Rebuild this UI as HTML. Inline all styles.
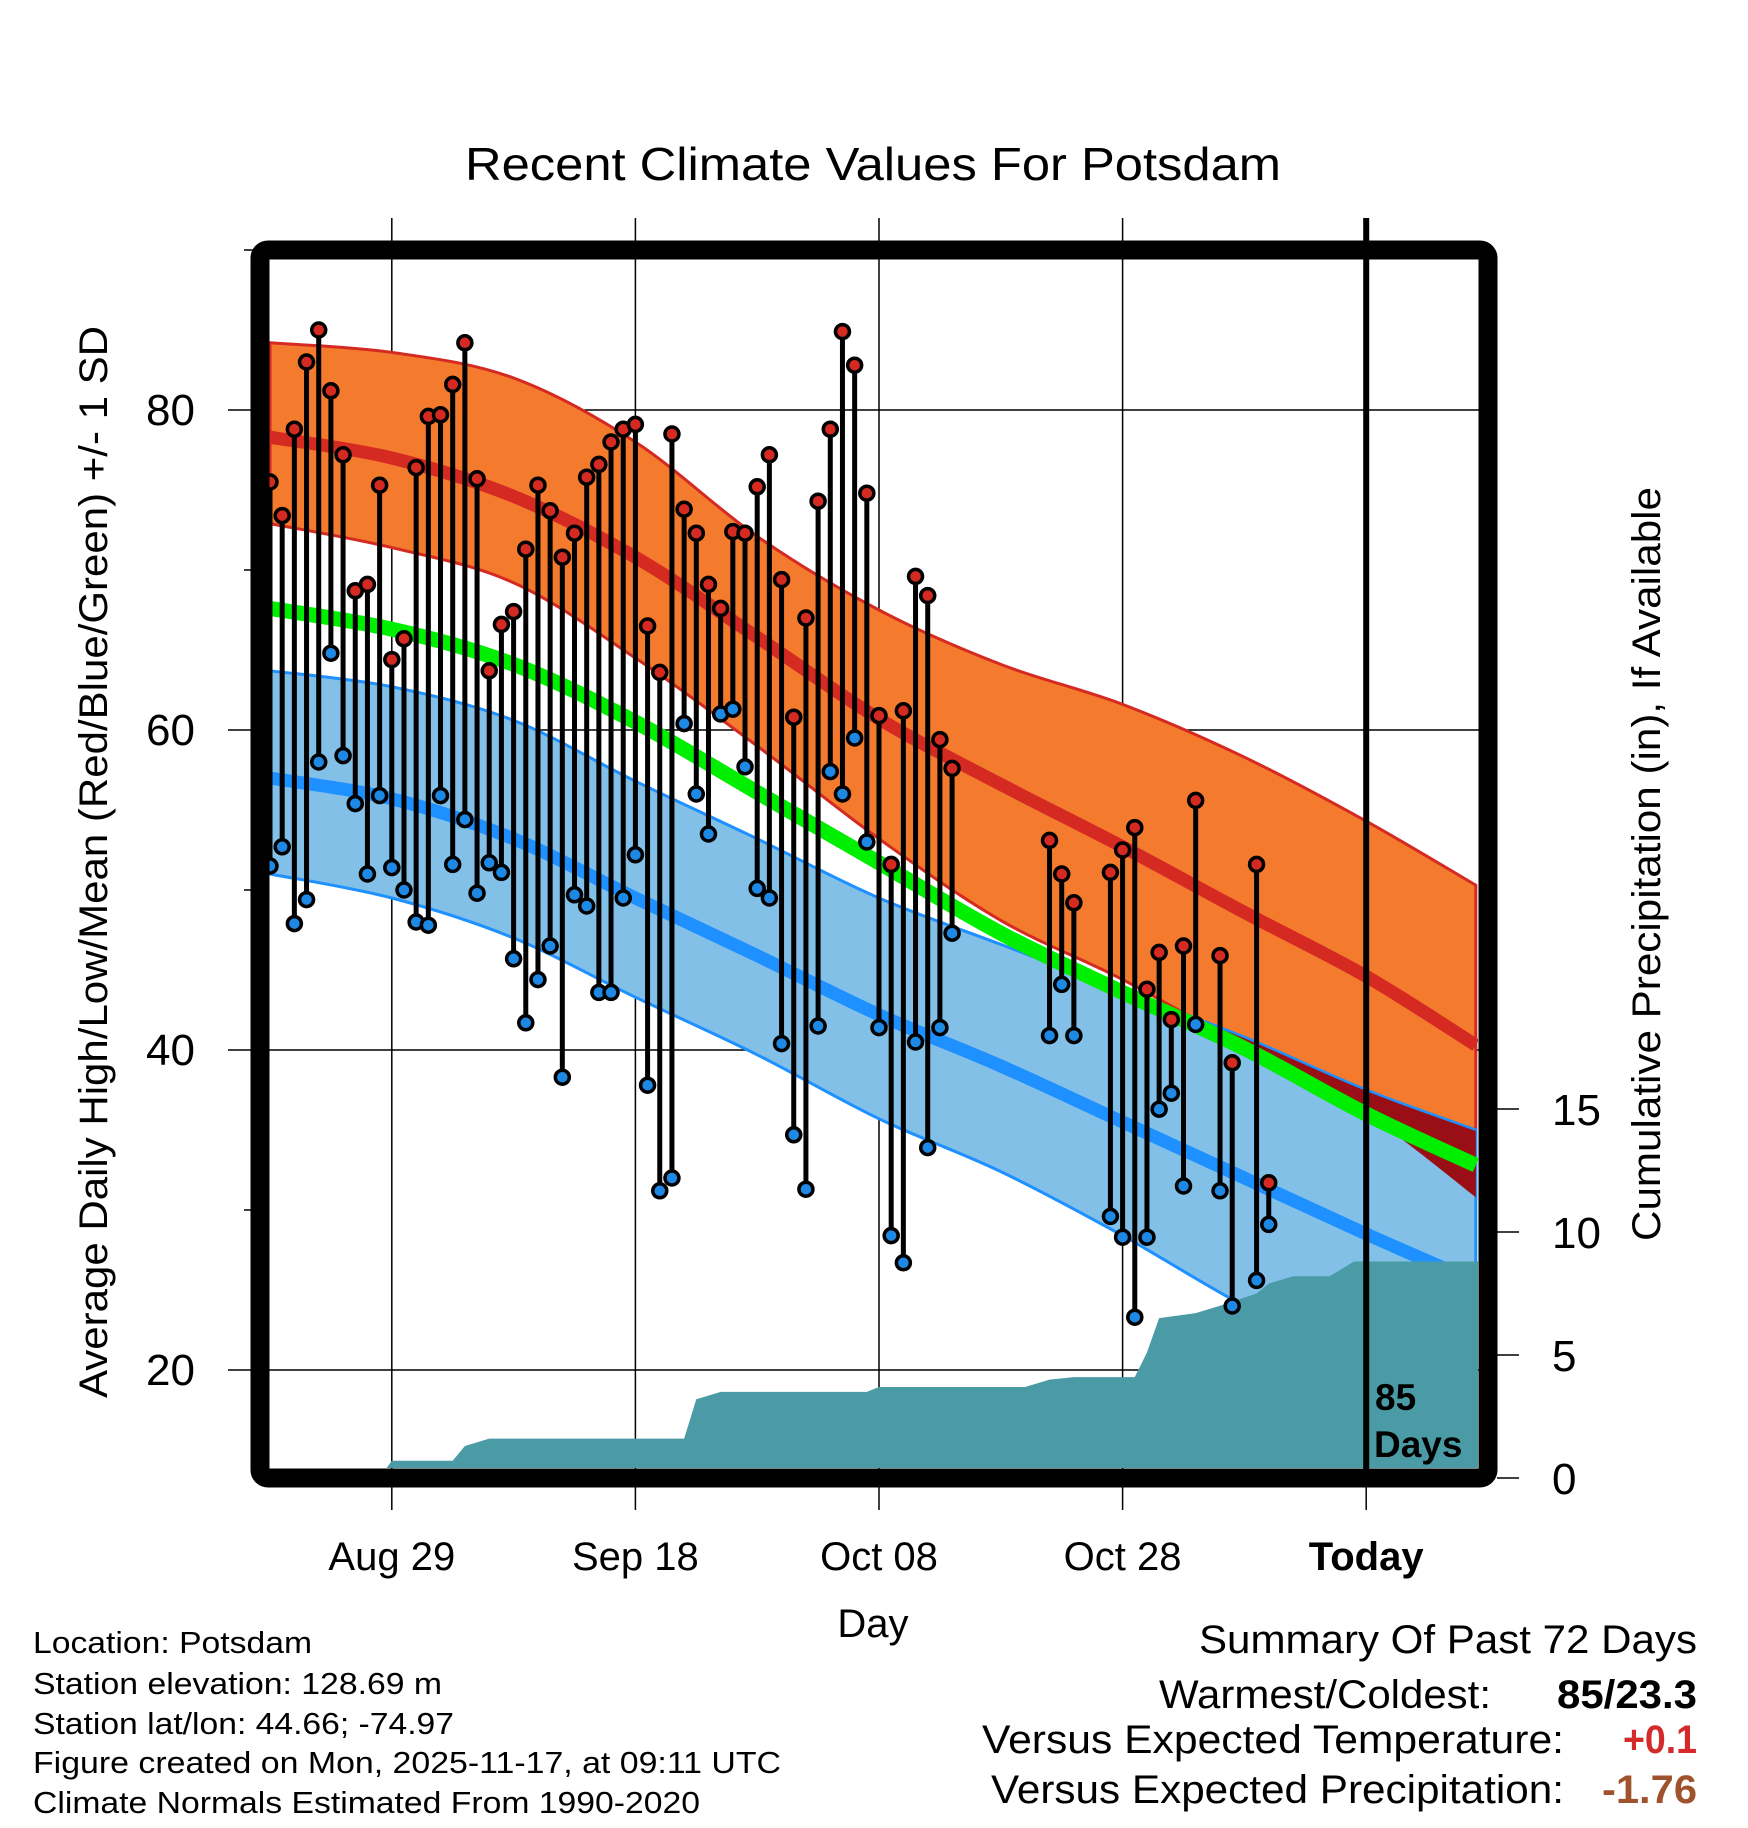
<!DOCTYPE html>
<html><head><meta charset="utf-8"><style>
html,body{margin:0;padding:0;background:#fff;}
svg{display:block;font-family:"Liberation Sans",sans-serif;}
</style></head><body>
<svg id="chart" width="1748" height="1828" viewBox="0 0 1748 1828" xmlns="http://www.w3.org/2000/svg">
<defs><clipPath id="plotclip"><rect x="268" y="259" width="1210" height="1209"/></clipPath></defs>
<rect width="1748" height="1828" fill="#fff"/>
<text x="873" y="180" font-size="46" text-anchor="middle" textLength="816" lengthAdjust="spacingAndGlyphs">Recent Climate Values For Potsdam</text>
<g id="gridlayer"></g>
<g id="plot" clip-path="url(#plotclip)"></g>
<g id="overlay"></g>
<rect x="260" y="250" width="1228" height="1228" rx="8" fill="none" stroke="#000" stroke-width="19"/>
<g id="axes"></g>
<text x="873" y="1637" font-size="40" text-anchor="middle">Day</text>
<text transform="translate(107,862) rotate(-90)" font-size="40" text-anchor="middle" textLength="1072" lengthAdjust="spacingAndGlyphs">Average Daily High/Low/Mean (Red/Blue/Green) +/- 1 SD</text>
<text transform="translate(1660,864) rotate(-90)" font-size="40" text-anchor="middle" textLength="754" lengthAdjust="spacingAndGlyphs">Cumulative Precipitation (in), If Available</text>
<g font-size="31">
<text x="33" y="1653" textLength="279" lengthAdjust="spacingAndGlyphs">Location: Potsdam</text>
<text x="33" y="1694" textLength="409" lengthAdjust="spacingAndGlyphs">Station elevation: 128.69 m</text>
<text x="33" y="1734" textLength="421" lengthAdjust="spacingAndGlyphs">Station lat/lon: 44.66; -74.97</text>
<text x="33" y="1773" textLength="748" lengthAdjust="spacingAndGlyphs">Figure created on Mon, 2025-11-17, at 09:11 UTC</text>
<text x="33" y="1813" textLength="667" lengthAdjust="spacingAndGlyphs">Climate Normals Estimated From 1990-2020</text>
</g>
<g font-size="40">
<text x="1199" y="1653" textLength="498" lengthAdjust="spacingAndGlyphs">Summary Of Past 72 Days</text>
<text x="1159" y="1708" textLength="332" lengthAdjust="spacingAndGlyphs">Warmest/Coldest:</text>
<text x="1557" y="1708" font-weight="bold" textLength="140" lengthAdjust="spacingAndGlyphs">85/23.3</text>
<text x="982" y="1753" textLength="582" lengthAdjust="spacingAndGlyphs">Versus Expected Temperature:</text>
<text x="1623" y="1753" font-weight="bold" fill="#d42a2a" textLength="74" lengthAdjust="spacingAndGlyphs">+0.1</text>
<text x="991" y="1803" textLength="573" lengthAdjust="spacingAndGlyphs">Versus Expected Precipitation:</text>
<text x="1602" y="1803" font-weight="bold" fill="#a0522d" textLength="95" lengthAdjust="spacingAndGlyphs">-1.76</text>
</g>
</svg>
<script>
// ---- data ----
const dayIdx = [0,1,2,3,4,5,6,7,8,9,10,11,12,13,14,15,16,17,18,19,20,21,22,23,24,25,26,27,28,29,30,31,32,33,34,35,36,37,38,39,40,41,42,43,44,45,46,47,48,49,50,51,52,53,54,55,56,64,65,66,69,70,71,72,73,74,75,76,78,79,81,82];
const highs = [75.5,73.4,78.8,83.0,85.0,81.2,77.2,68.7,69.1,75.3,64.4,65.7,76.4,79.6,79.7,81.6,84.2,75.7,63.7,66.6,67.4,71.3,75.3,73.7,70.8,72.3,75.8,76.6,78.0,78.8,79.1,66.5,63.6,78.5,73.8,72.3,69.1,67.6,72.4,72.3,75.2,77.2,69.4,60.8,67.0,74.3,78.8,84.9,82.8,74.8,60.9,51.6,61.2,69.6,68.4,59.4,57.6,53.1,51.0,49.2,51.1,52.5,53.9,43.8,46.1,41.9,46.5,55.6,45.9,39.2,51.6,31.7];
const lows = [51.5,52.7,47.9,49.4,58.0,64.8,58.4,55.4,51.0,55.9,51.4,50.0,48.0,47.8,55.9,51.6,54.4,49.8,51.7,51.1,45.7,41.7,44.4,46.5,38.3,49.7,49.0,43.6,43.6,49.5,52.2,37.8,31.2,32.0,60.4,56.0,53.5,61.0,61.3,57.7,50.1,49.5,40.4,34.7,31.3,41.5,57.4,56.0,59.5,53.0,41.4,28.4,26.7,40.5,33.9,41.4,47.3,40.9,44.1,40.9,29.6,28.3,23.3,28.3,36.3,37.3,31.5,41.6,31.2,24.0,25.6,29.1];
const normDays = [0,10,20,30,40,50,60,70,80,90,99];
const highUpper = [84.2,83.6,82.0,78.0,72.1,67.5,64.1,61.6,58.3,54.3,50.3];
const highMean = [78.3,77.0,74.6,70.8,65.8,60.7,56.6,52.7,48.6,44.6,40.3];
const highLower = [72.9,71.4,69.2,64.5,59.0,53.2,48.1,44.4,40.2,36.0,30.8];
const meanTemp = [67.6,66.3,64.1,60.5,56.1,51.7,47.3,43.6,40.1,36.0,32.8];
const lowUpper = [63.7,62.7,60.6,56.8,53.2,49.5,46.6,43.7,40.8,37.5,35.0];
const lowMean = [57.0,55.7,53.2,49.5,45.9,42.2,39.0,35.5,32.0,28.5,25.5];
const lowLower = [51.0,49.5,47.0,43.3,39.7,35.7,32.4,28.4,24.0,20.4,16.7];
const precipDays = [0,9,10,15,16,18,34,35,37,49,50,62,64,66,71,72,73,76,78,81,82,84,87,89,99.5];
const precipVals = [0,0,0.7,0.7,1.3,1.6,1.6,3.2,3.5,3.5,3.7,3.7,4.0,4.1,4.1,5.1,6.5,6.7,7.0,7.5,7.9,8.2,8.2,8.8,8.8];
const xTickDays = [10,30,50,70,90];
const xTickLabels = ["Aug 29","Sep 18","Oct 08","Oct 28","Today"];
const yTicks = [20,40,60,80];
const yMinor = [30,50,70,90];
const pTicks = [0,5,10,15];

// ---- scales ----
const X = d => 270 + d*12.18;
const Y = v => 410 + (80 - v)*16.0;
const P = v => 1478 - v*24.6;
const NS = "http://www.w3.org/2000/svg";
function mk(tag, attrs, parent){const e=document.createElementNS(NS,tag);for(const k in attrs)e.setAttribute(k,attrs[k]);parent.appendChild(e);return e;}
const plot=document.getElementById('plot'), grid=document.getElementById('gridlayer'), axes=document.getElementById('axes'), overlay=document.getElementById('overlay');
function smooth(pts, move){
  let s = (move?'M':'L')+pts[0][0]+','+pts[0][1];
  for(let i=0;i<pts.length-1;i++){
    const p0=pts[Math.max(0,i-1)],p1=pts[i],p2=pts[i+1],p3=pts[Math.min(pts.length-1,i+2)];
    const c1=[p1[0]+(p2[0]-p0[0])/6,p1[1]+(p2[1]-p0[1])/6];
    const c2=[p2[0]-(p3[0]-p1[0])/6,p2[1]-(p3[1]-p1[1])/6];
    s+=' C'+c1+' '+c2+' '+p2;
  }
  return s;
}
const pts = arr => normDays.map((d,i)=>[X(d),Y(arr[i])]);
function lineP(arr){return smooth(pts(arr),true);}
function bandP(top,bot){return smooth(pts(top),true)+' '+smooth(pts(bot).reverse(),false)+' Z';}

let e=mk('path',{d:bandP(highUpper,highLower),fill:'#f47a2e',stroke:'#d42a22','stroke-width':3},plot);

e=mk('path',{d:lineP(highMean),fill:'none',stroke:'#d42a22','stroke-width':13},plot);

e=mk('path',{d:bandP(lowUpper,lowLower),fill:'#82c0e8',stroke:'#1e90ff','stroke-width':3},plot);

const ovBot=lowUpper.map((v,i)=>Math.min(v,highLower[i]));
e=mk('path',{d:bandP(lowUpper,ovBot),fill:'#990f15'},plot);

e=mk('path',{d:smooth(pts(lowUpper),true),fill:'none',stroke:'#1e90ff','stroke-width':2},plot);

e=mk('path',{d:lineP(lowMean),fill:'none',stroke:'#1e90ff','stroke-width':13},plot);

e=mk('path',{d:lineP(meanTemp),fill:'none',stroke:'#00ee00','stroke-width':15},plot);

let pp=precipDays.map((d,i)=>X(d)+','+P(precipVals[i])).join(' ');
pp+=' '+X(precipDays[precipDays.length-1])+','+(P(0)+5)+' '+X(0)+','+(P(0)+5);
e=mk('polygon',{points:pp,fill:'#4a9ba5'},plot);


yTicks.forEach(v=>{const g=mk('line',{x1:228,x2:1480,y1:Y(v),y2:Y(v),stroke:'#000','stroke-width':1.5},grid);

const t=mk('text',{x:195,y:Y(v)+15,'font-size':44,'text-anchor':'end'},axes);t.textContent=v;
});
yMinor.forEach(v=>{const g=mk('line',{x1:244,x2:262,y1:Y(v),y2:Y(v),stroke:'#000','stroke-width':1.5},grid);
});
xTickDays.forEach((d,i)=>{const today=i===xTickLabels.length-1;
const g=mk('line',{x1:X(d),x2:X(d),y1:218,y2:1510,stroke:'#000','stroke-width':1.5},grid);

const t=mk('text',{x:X(d),y:1570,'font-size':40,'text-anchor':'middle','font-weight':today?'bold':'normal'},axes);t.textContent=xTickLabels[i];
});
e=mk('line',{x1:X(90),x2:X(90),y1:218,y2:1470,stroke:'#000','stroke-width':6},overlay);

let t=mk('text',{x:1375,y:1410,'font-size':37,'font-weight':'bold'},overlay);t.textContent='85';

t=mk('text',{x:1374,y:1457,'font-size':37,'font-weight':'bold'},overlay);t.textContent='Days';

pTicks.forEach(v=>{const g=mk('line',{x1:1497,x2:1519,y1:P(v),y2:P(v),stroke:'#000','stroke-width':1.5},axes);

const tt=mk('text',{x:1552,y:P(v)+16,'font-size':44},axes);tt.textContent=v;
});

dayIdx.forEach((d,i)=>{
const s=mk('line',{x1:X(d),x2:X(d),y1:Y(highs[i]),y2:Y(lows[i]),stroke:'#000','stroke-width':5},overlay);
});
dayIdx.forEach((d,i)=>{
const h=mk('circle',{cx:X(d),cy:Y(highs[i]),r:7,fill:'#d42a22',stroke:'#000','stroke-width':3.5},overlay);

const l=mk('circle',{cx:X(d),cy:Y(lows[i]),r:7,fill:'#1e88e5',stroke:'#000','stroke-width':3.5},overlay);
});
</script>
</body></html>
